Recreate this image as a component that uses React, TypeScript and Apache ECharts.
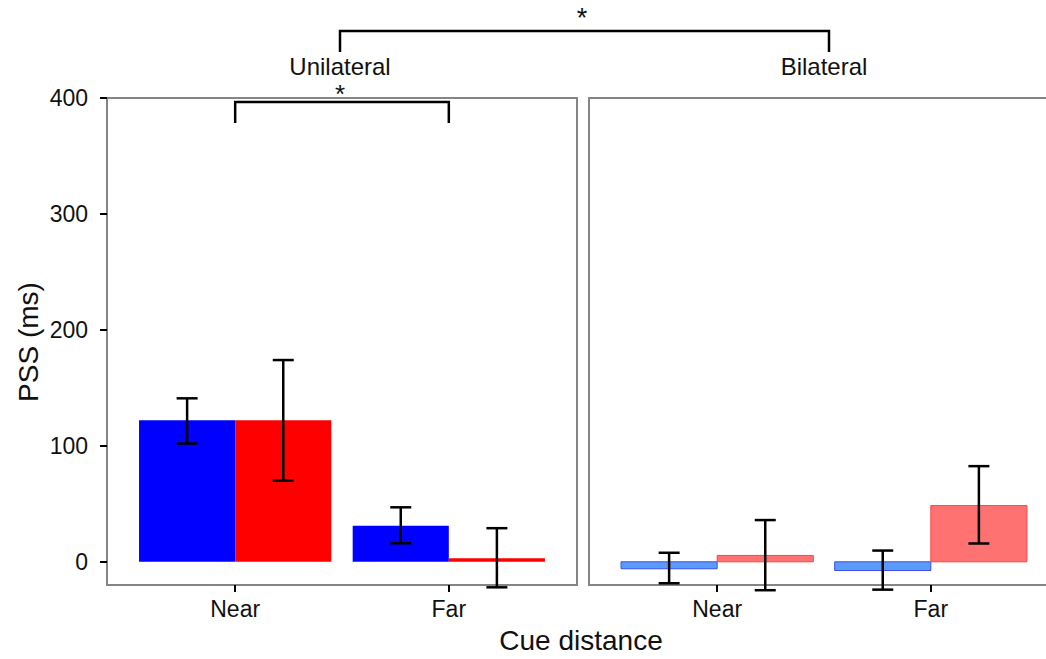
import React, { useEffect, useRef } from "react";
import * as echarts from "echarts";

const categories = ["Near", "Far"];
const panelLabels = ["Unilateral", "Bilateral"];
const yTicks = [0, 100, 200, 300, 400];
const xTicks = [1, 2];

// Unilateral panel
const uniBlue = [122, 31];
const uniBlueLo = [102, 16];
const uniBlueHi = [141, 47];
const uniRed = [122, 3];
const uniRedLo = [70, -22];
const uniRedHi = [174, 29];

// Bilateral panel
const biBlue = [-6, -7.5];
const biBlueLo = [-18.5, -24];
const biBlueHi = [7.8, 9.7];
const biRed = [5.5, 48.5];
const biRedLo = [-24.5, 15.8];
const biRedHi = [36, 82.5];

const DODGE = 0.225;
const FONT = "Liberation Sans, Arial, sans-serif";

function barData(vals: number[], side: number) {
  return vals.map((v, i) => [i + 1 + side * DODGE, v]);
}
function errData(lo: number[], hi: number[], side: number) {
  return lo.map((l, i) => [i + 1 + side * DODGE, l, hi[i]]);
}

function barSeries(name: string, data: number[][], gridIdx: number, fill: string, stroke: string | null) {
  return {
    name,
    type: "custom",
    xAxisIndex: gridIdx,
    yAxisIndex: gridIdx,
    z: 2,
    data,
    renderItem: (params: any, api: any) => {
      const x = api.value(0);
      const v = api.value(1);
      const a = api.coord([x - DODGE, v]);
      const b = api.coord([x + DODGE, 0]);
      return {
        type: "rect",
        shape: {
          x: a[0],
          y: Math.min(a[1], b[1]),
          width: b[0] - a[0],
          height: Math.abs(b[1] - a[1]),
        },
        style: stroke ? { fill, stroke, lineWidth: 1 } : { fill },
      };
    },
  };
}

function errSeries(name: string, data: number[][], gridIdx: number) {
  return {
    name,
    type: "custom",
    xAxisIndex: gridIdx,
    yAxisIndex: gridIdx,
    z: 5,
    data,
    renderItem: (params: any, api: any) => {
      const x = api.value(0);
      const lo = api.coord([x, api.value(1)]);
      const hi = api.coord([x, api.value(2)]);
      const hw = 10.5;
      const st = { stroke: "#000", lineWidth: 2.5 };
      return {
        type: "group",
        children: [
          { type: "line", shape: { x1: lo[0], y1: lo[1], x2: hi[0], y2: hi[1] }, style: st },
          { type: "line", shape: { x1: lo[0] - hw, y1: lo[1], x2: lo[0] + hw, y2: lo[1] }, style: st },
          { type: "line", shape: { x1: hi[0] - hw, y1: hi[1], x2: hi[0] + hw, y2: hi[1] }, style: st },
        ],
      };
    },
  };
}

function xAxisFor(gridIndex: number) {
  return {
    type: "value",
    gridIndex,
    min: 0.4,
    max: 2.6,
    axisLine: { show: false, onZero: false },
    splitLine: { show: false },
    axisTick: {
      show: true,
      length: 7,
      customValues: xTicks,
      lineStyle: { color: "#000", width: 2 },
    },
    axisLabel: {
      show: true,
      customValues: xTicks,
      margin: 12,
      fontSize: 23,
      fontFamily: FONT,
      color: "#111",
      formatter: (v: number) => categories[Math.round(v) - 1] ?? "",
    },
  };
}

function yAxisFor(gridIndex: number, showLabels: boolean) {
  return {
    type: "value",
    gridIndex,
    min: -20,
    max: 400,
    axisLine: { show: false, onZero: false },
    splitLine: { show: false },
    axisTick: {
      show: showLabels,
      length: 7,
      customValues: yTicks,
      lineStyle: { color: "#000", width: 2 },
    },
    axisLabel: {
      show: showLabels,
      customValues: yTicks,
      margin: 19,
      fontSize: 23,
      fontFamily: FONT,
      color: "#111",
    },
  };
}

export default function App() {
  const ref = useRef<HTMLDivElement>(null);

  useEffect(() => {
    if (!ref.current) return;
    const chart = echarts.init(ref.current, null, { renderer: "svg" });
    const gridStyle = { show: true, borderColor: "#858585", borderWidth: 2, backgroundColor: "#fff" };
    chart.setOption({
      animation: false,
      backgroundColor: "#fff",
      grid: [
        { left: 107, top: 98, width: 470, height: 487, ...gridStyle },
        { left: 589, top: 98, width: 470, height: 487, ...gridStyle },
      ],
      xAxis: [xAxisFor(0), xAxisFor(1)],
      yAxis: [yAxisFor(0, true), yAxisFor(1, false)],
      series: [
        barSeries("Unilateral blue", barData(uniBlue, -1), 0, "#0000ff", null),
        barSeries("Unilateral red", barData(uniRed, 1), 0, "#ff0000", null),
        errSeries("Unilateral blue err", errData(uniBlueLo, uniBlueHi, -1), 0),
        errSeries("Unilateral red err", errData(uniRedLo, uniRedHi, 1), 0),
        barSeries("Bilateral blue", barData(biBlue, -1), 1, "#5a9bf7", "#3d4ef2"),
        barSeries("Bilateral red", barData(biRed, 1), 1, "#ff7272", "#ff4444"),
        errSeries("Bilateral blue err", errData(biBlueLo, biBlueHi, -1), 1),
        errSeries("Bilateral red err", errData(biRedLo, biRedHi, 1), 1),
      ],
    });

    const nearPx = chart.convertToPixel({ gridIndex: 0 }, [1, 0]) as number[];
    const farPx = chart.convertToPixel({ gridIndex: 0 }, [2, 0]) as number[];
    const lineStyle = { stroke: "#000", lineWidth: 2.5, fill: null };
    const textBase = { fontFamily: FONT, fill: "#111", align: "center", verticalAlign: "middle" };

    chart.setOption({
      graphic: [
        // outer bracket
        { type: "polyline", shape: { points: [[340, 52], [340, 31], [829, 31], [829, 52]] }, style: lineStyle },
        { type: "text", x: 582, y: 4, style: { ...textBase, verticalAlign: "top", text: "*", fontSize: 27 } },
        // inner bracket
        {
          type: "polyline",
          shape: { points: [[nearPx[0], 123], [nearPx[0], 102], [farPx[0], 102], [farPx[0], 123]] },
          style: lineStyle,
        },
        { type: "text", x: 340, y: 81, style: { ...textBase, verticalAlign: "top", text: "*", fontSize: 26 } },
        // strip labels
        { type: "text", x: 340, y: 66, style: { ...textBase, text: panelLabels[0], fontSize: 24 } },
        { type: "text", x: 824, y: 66, style: { ...textBase, text: panelLabels[1], fontSize: 24 } },
        // axis titles
        { type: "text", x: 581, y: 640, style: { ...textBase, text: "Cue distance", fontSize: 28 } },
        {
          type: "text",
          x: 28,
          y: 342,
          rotation: Math.PI / 2,
          style: { ...textBase, text: "PSS (ms)", fontSize: 28 },
        },
      ],
    });

    return () => chart.dispose();
  }, []);

  return (
    <div
      style={{
        position: "absolute",
        left: 0,
        top: 0,
        width: 1046,
        height: 659,
        overflow: "hidden",
        background: "#fff",
      }}
    >
      <div ref={ref} style={{ width: 1080, height: 659 }} />
    </div>
  );
}
